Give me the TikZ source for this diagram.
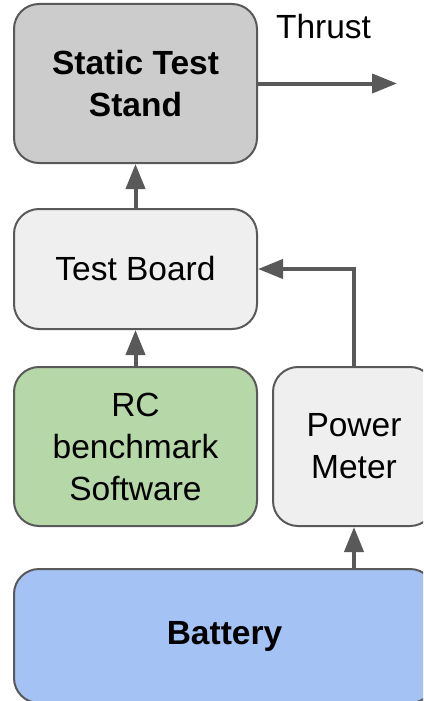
\documentclass[tikz,border=0pt]{standalone}
\usepackage{fontspec}
\setmainfont{Liberation Sans}
\usetikzlibrary{arrows.meta}
\definecolor{edgegray}{HTML}{595959}
\definecolor{standgray}{HTML}{CCCCCC}
\definecolor{lightgray}{HTML}{EFEFEF}
\definecolor{softgreen}{HTML}{B6D7A8}
\definecolor{softblue}{HTML}{A4C2F4}
\begin{document}
\begin{tikzpicture}[x=1pt,y=-1pt,
  blk/.style={draw=edgegray, line width=2pt, rounded corners=25pt, rectangle,
    inner sep=0pt, align=center, font=\fontsize{33.5}{42}\selectfont},
  conn/.style={draw=edgegray, line width=4pt, -{Triangle[length=25pt,width=19pt]}},
  lbl/.style={font=\fontsize{33.5}{42}\selectfont}]
\useasboundingbox (0,0) rectangle (423,701);
\begin{scope}
\clip (0,0) rectangle (423,701);
\node[blk, fill=standgray, minimum width=243pt, minimum height=159pt] (sts) at (135.5,83.5) {\textbf{Static Test}\\\textbf{Stand}};
\node[blk, fill=lightgray, minimum width=243pt, minimum height=120pt] (tb) at (135.5,269) {Test Board};
\node[blk, fill=softgreen, minimum width=243pt, minimum height=159pt] (rc) at (135.5,446.5) {RC\\benchmark\\Software};
\node[blk, fill=lightgray, minimum width=162pt, minimum height=159pt] (pm) at (354,446.5) {Power\\Meter};
\node[blk, fill=softblue, minimum width=421pt, minimum height=134pt] (bat) at (224.5,636) {\textbf{Battery}};
\node[lbl, anchor=base] (thr) at (323.5,39) {Thrust};
\coordinate (thrend) at (397,83.5);
\draw[conn] (tb.north) -- (sts.south);
\draw[conn] (rc.north) -- (tb.south);
\draw[conn] (pm.north) |- (tb.east);
\draw[conn] (pm.south |- bat.north) -- (pm.south);
\draw[conn] (sts.east) -- (thrend);
\end{scope}
\end{tikzpicture}
\end{document}
